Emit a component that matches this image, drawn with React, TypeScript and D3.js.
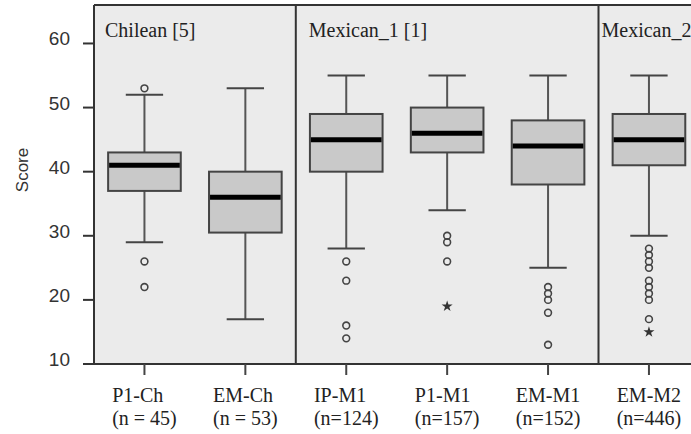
import React, { useLayoutEffect, useRef } from "react";
import * as d3 from "d3";

// ---- data ----
const categories = ["P1-Ch", "EM-Ch", "IP-M1", "P1-M1", "EM-M1", "EM-M2"];
const nLabels = ["(n = 45)", "(n = 53)", "(n=124)", "(n=157)", "(n=152)", "(n=446)"];
const panelNames = ["Chilean [5]", "Mexican_1 [1]", "Mexican_2"];
const panelOf = [0, 0, 1, 1, 1, 2];

const whiskerLow = [29, 17, 28, 34, 25, 30];
const q1 = [37, 30.5, 40, 43, 38, 41];
const median = [41, 36, 45, 46, 44, 45];
const q3 = [43, 40, 49, 50, 48, 49];
const whiskerHigh = [52, 53, 55, 55, 55, 55];

const outliers = [
  [53, 26, 22],
  [],
  [26, 23, 16, 14],
  [30, 29, 26],
  [22, 21, 20, 18, 13],
  [28, 27, 26, 25, 23, 22, 21, 20, 17],
];
const extremes = [[], [], [], [19], [], [15]];

const yTicks = [10, 20, 30, 40, 50, 60];

// ---- layout ----
const W = 691;
const H = 434;
const plotLeft = 94;
const plotTop = 5;
const plotBottom = 364;
const step = 100.9;
const panelInset = [11, 13, 3];

const serif = "'Liberation Serif', 'Times New Roman', serif";
const sans = "'Liberation Sans', Arial, sans-serif";

export default function App() {
  const labelRefs = useRef<(SVGGElement | null)[]>([]);

  const x = d3
    .scaleBand<string>()
    .domain(categories)
    .range([plotLeft, plotLeft + step * categories.length])
    .padding(0);
  const y = d3.scaleLinear().domain([10, 66]).range([plotBottom, plotTop]);

  const bw = x.bandwidth();
  const boxW = bw * 0.72;
  const capW = bw * 0.37;
  const cx = (c: string) => (x(c) as number) + bw / 2;

  // panel extents
  const panels = panelNames.map((name, p) => {
    const idx = categories.filter((_, i) => panelOf[i] === p);
    const left = x(idx[0]) as number;
    const right = (x(idx[idx.length - 1]) as number) + bw;
    return { name, left, right };
  });

  const star = d3.symbol().type(d3.symbolStar).size(38)();

  useLayoutEffect(() => {
    labelRefs.current.forEach((g, i) => {
      if (!g) return;
      const bb = g.getBBox();
      const c = cx(categories[i]);
      g.setAttribute("transform", `translate(${c - bb.width / 2},0)`);
    });
  }, []);

  return (
    <svg
      width={W}
      height={H}
      style={{ position: "absolute", left: 0, top: 0, background: "#fff" }}
    >
      <rect
        x={plotLeft}
        y={plotTop}
        width={W - plotLeft}
        height={plotBottom - plotTop}
        fill="#ebebeb"
      />
      {/* panel dividers */}
      {panels.slice(1).map((p, i) => (
        <line
          key={"div" + i}
          x1={p.left}
          x2={p.left}
          y1={plotTop}
          y2={plotBottom}
          stroke="#333"
          strokeWidth={2}
        />
      ))}
      {/* panel labels */}
      {panels.map((p, i) => (
        <text
          key={"pl" + i}
          x={p.left + panelInset[i]}
          y={37}
          fontFamily={serif}
          fontSize={20}
          fill="#222"
        >
          {p.name}
        </text>
      ))}

      {/* boxes */}
      {categories.map((c, i) => {
        const xc = cx(c);
        return (
          <g key={c}>
            <line x1={xc} x2={xc} y1={y(whiskerLow[i])} y2={y(q1[i])} stroke="#555" strokeWidth={2} />
            <line x1={xc} x2={xc} y1={y(q3[i])} y2={y(whiskerHigh[i])} stroke="#555" strokeWidth={2} />
            <line x1={xc - capW / 2} x2={xc + capW / 2} y1={y(whiskerLow[i])} y2={y(whiskerLow[i])} stroke="#444" strokeWidth={2} />
            <line x1={xc - capW / 2} x2={xc + capW / 2} y1={y(whiskerHigh[i])} y2={y(whiskerHigh[i])} stroke="#444" strokeWidth={2} />
            <rect
              x={xc - boxW / 2}
              y={y(q3[i])}
              width={boxW}
              height={y(q1[i]) - y(q3[i])}
              fill="#c9c9c9"
              stroke="#444"
              strokeWidth={2}
            />
            <line x1={xc - boxW / 2 + 1} x2={xc + boxW / 2 - 1} y1={y(median[i])} y2={y(median[i])} stroke="#000" strokeWidth={5} />
            {outliers[i].map((v, k) => (
              <circle key={"o" + k} cx={xc} cy={y(v)} r={3.4} fill="none" stroke="#444" strokeWidth={1.6} />
            ))}
            {extremes[i].map((v, k) => (
              <path key={"e" + k} d={star as string} transform={`translate(${xc},${y(v)})`} fill="#333" />
            ))}
          </g>
        );
      })}

      {/* frame */}
      <line x1={plotLeft} x2={plotLeft} y1={plotTop} y2={plotBottom} stroke="#333" strokeWidth={2} />
      <line x1={plotLeft} x2={W} y1={plotTop} y2={plotTop} stroke="#333" strokeWidth={2} />
      <line x1={plotLeft - 11} x2={W} y1={plotBottom} y2={plotBottom} stroke="#333" strokeWidth={2} />

      {/* y axis */}
      {yTicks.map((t) => (
        <g key={"yt" + t}>
          <line x1={plotLeft - 11} x2={plotLeft} y1={y(t)} y2={y(t)} stroke="#333" strokeWidth={2} />
          <text
            x={70}
            y={y(t) + 2}
            textAnchor="end"
            fontFamily={sans}
            fontSize={19}
            fill="#333"
          >
            {t}
          </text>
        </g>
      ))}
      <text
        transform={`translate(28,170) rotate(-90)`}
        textAnchor="middle"
        fontFamily={sans}
        fontSize={17}
        fill="#333"
      >
        Score
      </text>

      {/* x axis */}
      {categories.map((c, i) => (
        <g key={"xt" + c}>
          <line x1={cx(c)} x2={cx(c)} y1={plotBottom} y2={plotBottom + 11} stroke="#444" strokeWidth={2} />
          <g
            ref={(el) => {
              labelRefs.current[i] = el;
            }}
            transform={`translate(${cx(c) - 30},0)`}
          >
            <text x={0} y={402} fontFamily={serif} fontSize={20} fill="#222">
              {c}
            </text>
            <text x={0} y={425} fontFamily={serif} fontSize={20} fill="#222">
              {nLabels[i]}
            </text>
          </g>
        </g>
      ))}
    </svg>
  );
}
